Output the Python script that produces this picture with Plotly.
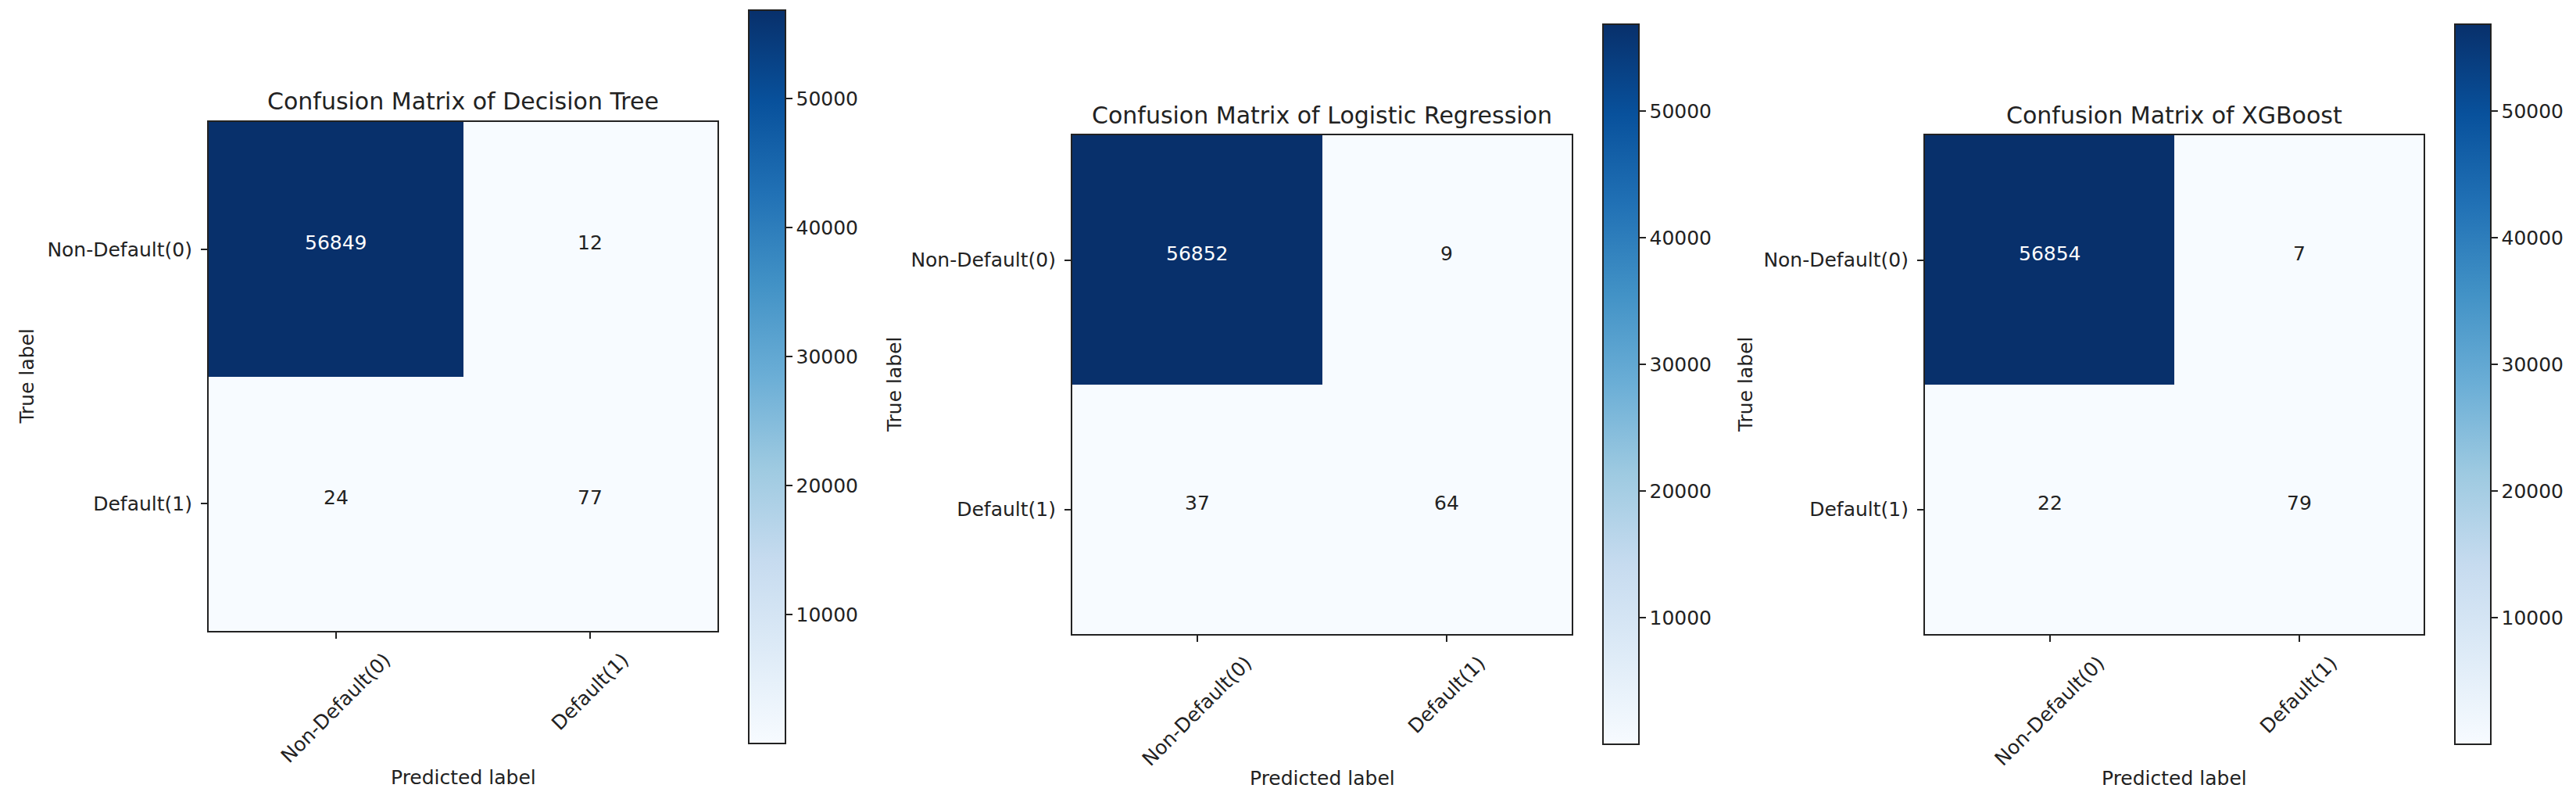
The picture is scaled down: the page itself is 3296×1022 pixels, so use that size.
import plotly.graph_objects as go

# ---------------- data ----------------
class_labels = ["Non-Default(0)", "Default(1)"]
model_names = ["Decision Tree", "Logistic Regression", "XGBoost"]
dt_matrix = [[56849, 12], [24, 77]]
lr_matrix = [[56852, 9], [37, 64]]
xgb_matrix = [[56854, 7], [22, 79]]
cbar_ticks = [10000, 20000, 30000, 40000, 50000]

matrices = [dt_matrix, lr_matrix, xgb_matrix]

# ---------------- layout constants (pixels, page coordinates) ----------------
W, H = 3296, 1022
OFF = 8  # default body margin of the html page
FONT = "DejaVu Sans"
FS = 25
plot_px = [(267, 918, 156, 807), (1372, 2011, 173, 811), (2463, 3101, 173, 811)]
cbar_px = [(958, 1005, 13, 951), (2051, 2097, 31, 952), (3141, 3187, 31, 952)]
title_y = [130, 147, 147]
ylabel_x = [34, 1144, 2233]
xlabel_y = [994, 995, 995]


def fx(px):
    return (px - OFF) / W


def fy(py):
    return 1 - (py - OFF) / H


blues = ['rgb(247,251,255)', 'rgb(222,235,247)', 'rgb(198,219,239)', 'rgb(158,202,225)',
         'rgb(107,174,214)', 'rgb(66,146,198)', 'rgb(33,113,181)', 'rgb(8,81,156)', 'rgb(8,48,107)']
colorscale = [[i / (len(blues) - 1), c] for i, c in enumerate(blues)]

fig = go.Figure()
layout = dict(
    width=W, height=H,
    margin=dict(l=0, r=0, t=0, b=0),
    paper_bgcolor="white", plot_bgcolor="white",
    font=dict(family=FONT, size=FS, color="black"),
    showlegend=False,
)
annotations = []

for i, (name, mat) in enumerate(zip(model_names, matrices)):
    ax = "" if i == 0 else str(i + 1)
    l, r, t, b = plot_px[i]
    cl, cr, ct, cb = cbar_px[i]
    flat = [v for row in mat for v in row]
    zmin, zmax = min(flat), max(flat)
    fig.add_trace(go.Heatmap(
        z=mat, x=class_labels, y=class_labels,
        xaxis="x" + ax, yaxis="y" + ax,
        colorscale=colorscale, zmin=zmin, zmax=zmax,
        colorbar=dict(
            x=fx(cl), xanchor="left", xpad=0, ypad=0,
            y=fy((ct + cb) / 2), yanchor="middle",
            len=cb - ct, lenmode="pixels",
            thickness=cr - cl, thicknessmode="pixels",
            outlinewidth=2, outlinecolor="#222222",
            tickvals=cbar_ticks, tickformat="d", ticks="outside", ticklen=8, tickwidth=2,
            tickcolor="#222222", tickfont=dict(family=FONT, size=FS, color="#222222"),
        ),
        hovertemplate="%{y} / %{x}: %{z}<extra></extra>",
    ))
    axis_common = dict(
        showline=True, mirror=True, linecolor="#222222", linewidth=2,
        showgrid=False, zeroline=False, ticks="outside", ticklen=8,
        tickwidth=2, tickcolor="#222222",
    )
    layout["xaxis" + ax] = dict(
        domain=[fx(l), fx(r)], anchor="y" + ax, range=[-0.5, 1.5],
        showticklabels=False, **axis_common)
    layout["yaxis" + ax] = dict(
        domain=[fy(b), fy(t)], anchor="x" + ax, range=[1.5, -0.5],
        tickfont=dict(family=FONT, size=FS, color="#222222"),
        ticklabelstandoff=6, **axis_common)

    # cell values
    thresh = zmax / 2
    for ri, row in enumerate(mat):
        for ci, v in enumerate(row):
            annotations.append(dict(
                xref="x" + ax, yref="y" + ax, x=class_labels[ci], y=class_labels[ri],
                text=str(v), showarrow=False, yshift=8,
                font=dict(family=FONT, size=FS, color="white" if v > thresh else "#222222"),
            ))
    # rotated x tick labels (centred under tick like matplotlib rotation=45)
    for lab in class_labels:
        annotations.append(dict(
            xref="x" + ax, yref="y" + ax + " domain", x=lab, y=0,
            xanchor="center", yanchor="top", yshift=-20,
            text=lab, textangle=-45, showarrow=False,
            font=dict(family=FONT, size=FS, color="#222222"),
        ))
    # title
    annotations.append(dict(
        xref="paper", yref="paper", x=fx((l + r) / 2), y=fy(title_y[i]),
        xanchor="center", yanchor="middle", showarrow=False,
        text=f"Confusion Matrix of {name}",
        font=dict(family=FONT, size=30, color="#222222"),
    ))
    # axis titles
    annotations.append(dict(
        xref="paper", yref="paper", x=fx((l + r) / 2), y=fy(xlabel_y[i]),
        xanchor="center", yanchor="middle", showarrow=False,
        text="Predicted label", font=dict(family=FONT, size=FS, color="#222222"),
    ))
    annotations.append(dict(
        xref="paper", yref="paper", x=fx(ylabel_x[i]), y=fy((t + b) / 2),
        xanchor="center", yanchor="middle", showarrow=False, textangle=-90,
        text="True label", font=dict(family=FONT, size=FS, color="#222222"),
    ))

layout["annotations"] = annotations
fig.update_layout(**layout)
fig.write_html("out.html")
